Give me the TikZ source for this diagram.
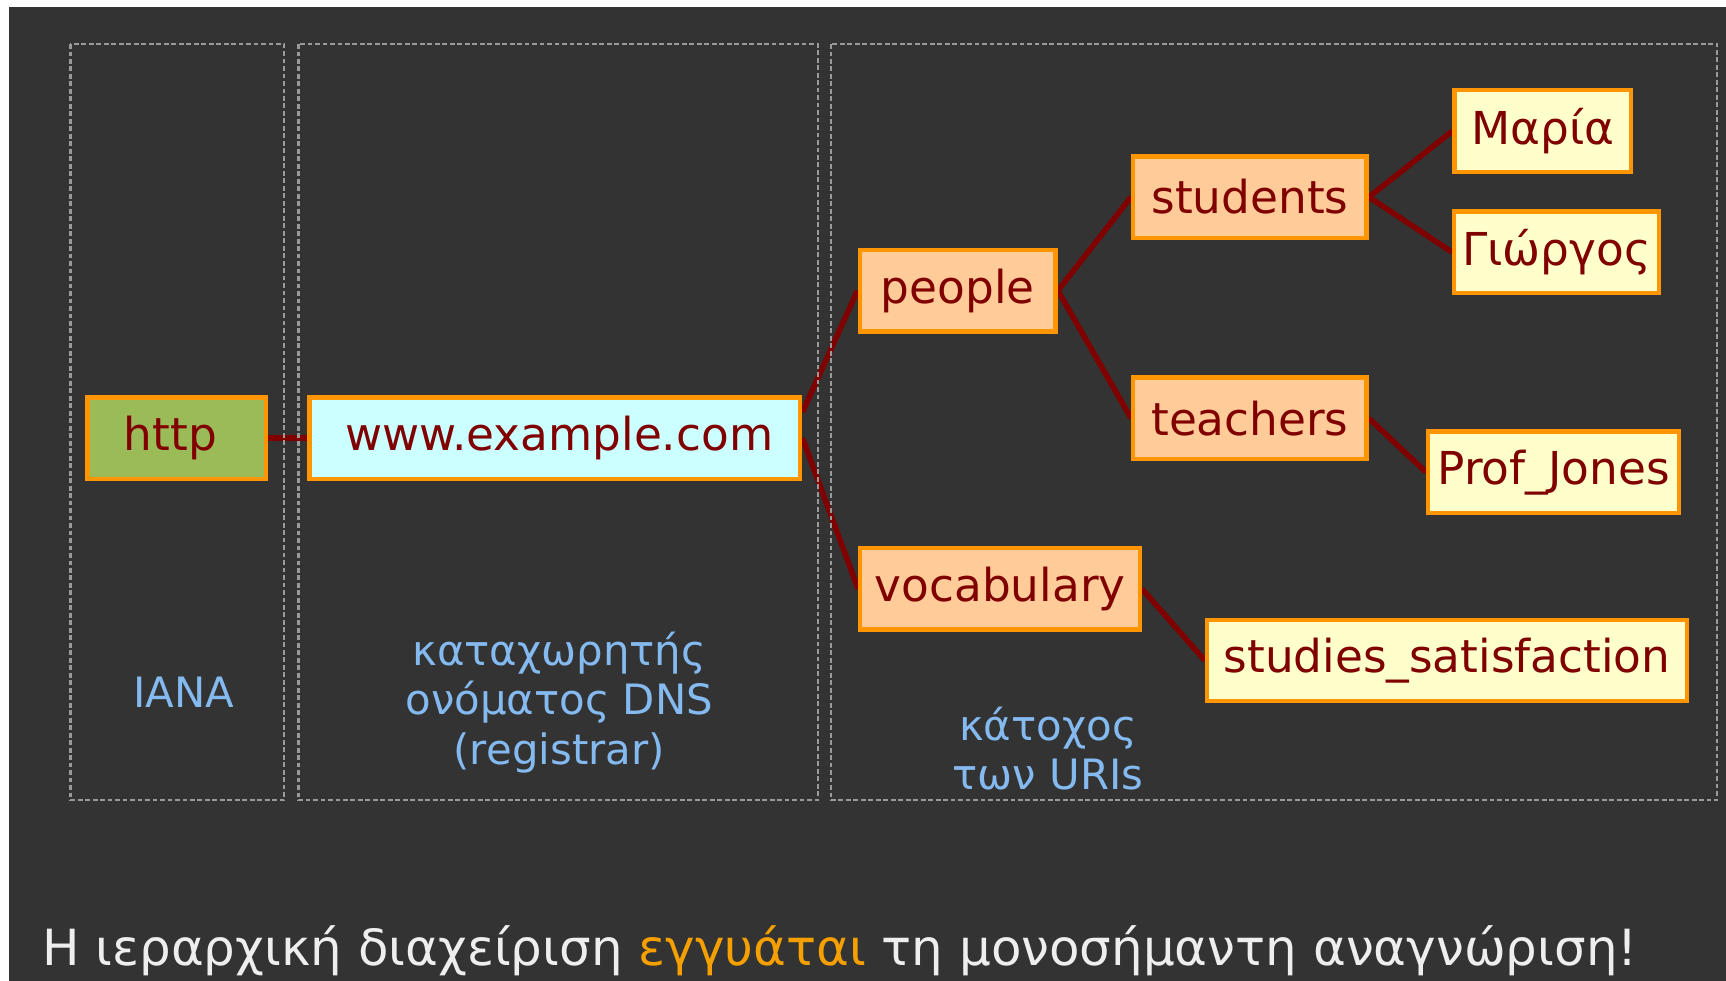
\documentclass[tikz,border=0pt]{standalone}
\usepackage{fontspec}
\setmainfont{DejaVu Sans}
\usetikzlibrary{backgrounds}

\definecolor{bgdark}{HTML}{333333}
\definecolor{frameorange}{HTML}{FF9500}
\definecolor{darkred}{HTML}{800000}
\definecolor{fillgreen}{HTML}{9BBB59}
\definecolor{fillcyan}{HTML}{CCFFFF}
\definecolor{fillpeach}{HTML}{FFCC99}
\definecolor{fillcream}{HTML}{FFFFCC}
\definecolor{labelblue}{HTML}{84BAF0}
\definecolor{captionwhite}{HTML}{EEEEEE}
\definecolor{captionorange}{HTML}{F5A000}
\definecolor{zonegray}{HTML}{9A9A9A}

\tikzset{
  uribox/.style={draw=frameorange, line width=2pt, text=darkred, inner sep=0pt,
    minimum height=37pt, font=\fontsize{20.6pt}{24pt}\selectfont},
  rootbox/.style={uribox, fill=fillgreen},
  hostbox/.style={uribox, fill=fillcyan},
  pathbox/.style={uribox, fill=fillpeach},
  leafbox/.style={uribox, fill=fillcream},
  zone/.style={draw=zonegray, line width=1.1pt, dash pattern=on 2.2pt off 1.2pt},
  zonelabel/.style={text=labelblue, align=center, inner sep=0pt,
    font=\fontsize{19pt}{22.5pt}\selectfont},
  link/.style={draw=darkred, line width=2.5pt}
}

\begin{document}
\begin{tikzpicture}[x=0.5pt, y=-0.5pt]
  \useasboundingbox (0,0) rectangle (1568,891);

  \begin{scope}[on background layer]
    \fill[white] (0,0) rectangle (1568,891);
    \fill[bgdark] (8,6.4) rectangle (1568,891);
  \end{scope}

  % administrative zones
  \draw[zone] (64,40) rectangle (258,727);
  \draw[zone] (271,40) rectangle (743,727);
  \draw[zone] (755,40) rectangle (1560,727);

  \node[zonelabel] (iana) at (167,629) {IANA};
  \node[zonelabel] (registrar) at (508,638) {καταχωρητής\\ονόματος DNS\\(registrar)};
  \node[zonelabel] (owner) at (952,680) {κάτοχος\\των URIs};

  % URI parts
  \node[rootbox, minimum width=81pt, text width=70pt, align=left] (http) at (160.5,398) {\hspace*{11pt}http};
  \node[hostbox, minimum width=223pt] (www) at (504,398) {\hspace*{4pt}www.example.com};
  \node[pathbox, minimum width=89pt] (people) at (870,264) {people};
  \node[pathbox, minimum width=106pt] (students) at (1135.5,179) {students};
  \node[pathbox, minimum width=106pt] (teachers) at (1135.5,380) {teachers};
  \node[pathbox, minimum width=127pt] (vocab) at (908.5,535) {vocabulary};
  \node[leafbox, minimum width=80pt] (maria) at (1401.5,119) {Μαρία};
  \node[leafbox, minimum width=93pt] (giorgos) at (1414,229) {Γιώργος};
  \node[leafbox, minimum width=114pt] (jones) at (1411.5,429) {Prof\_Jones};
  \node[leafbox, minimum width=218pt] (satisf) at (1314.5,600) {studies\_satisfaction};

  % hierarchy links
  \begin{scope}[on background layer]
    \draw[link] (http.east) -- (www.west);
    \draw[link] (www.6) -- (people.west);
    \draw[link] (www.east) -- (vocab.west);
    \draw[link] (people.east) -- (students.west);
    \draw[link] (people.east) -- (teachers.west);
    \draw[link] (students.east) -- (maria.west);
    \draw[link] (students.east) -- (giorgos.west);
    \draw[link] (teachers.east) -- (jones.west);
    \draw[link] (vocab.east) -- (satisf.west);
  \end{scope}

  % caption
  \node[anchor=base west, inner sep=0pt, text=captionwhite,
        font=\fontsize{22.65pt}{26pt}\selectfont] (caption) at (38,877)
    {Η ιεραρχική διαχείριση \textcolor{captionorange}{εγγυάται} τη μονοσήμαντη αναγνώριση!};
\end{tikzpicture}
\end{document}
